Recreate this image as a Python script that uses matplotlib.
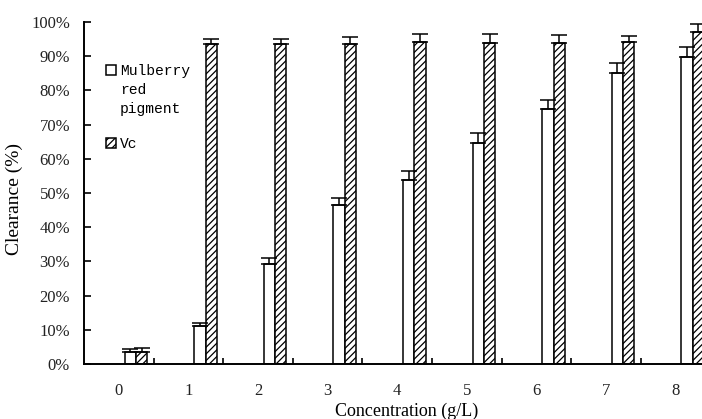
import matplotlib.pyplot as plt
import numpy as np
from matplotlib.patches import Rectangle
from matplotlib.ticker import FuncFormatter

serif = "Liberation Serif"
mono = "Liberation Mono"
plt.rcParams['hatch.color'] = '#444444'
plt.rcParams['hatch.linewidth'] = 0.9

concentration = ["0", "1", "2", "3", "4", "5", "6", "7", "8"]
mulberry = [3.6, 11.2, 29.2, 46.5, 53.7, 64.5, 74.6, 85.0, 89.9]
mulberry_err = [0.8, 0.7, 1.8, 2.0, 2.8, 3.0, 2.5, 2.9, 2.8]
vc = [3.6, 93.5, 93.5, 93.5, 94.2, 93.9, 93.8, 94.2, 97.1]
vc_err = [1.2, 1.5, 1.5, 2.0, 2.4, 2.7, 2.5, 1.6, 2.3]

W, H = 702, 419
fig = plt.figure(figsize=(W / 100, H / 100), dpi=100)
ax = fig.add_axes([84 / W, 55 / H, (W - 84) / W, (364 - 22) / H])

x = np.arange(len(concentration))
bw = 0.162
ax.bar(x + 0.165, mulberry, bw, color='white', edgecolor='black', linewidth=1.1,
       yerr=[np.zeros(len(x)), mulberry_err], capsize=6,
       error_kw=dict(elinewidth=1.1, capthick=1.1, ecolor='black'))
ax.bar(x + 0.327, vc, bw, color='white', edgecolor='black', linewidth=1.1, hatch='/////',
       yerr=[np.zeros(len(x)), vc_err], capsize=6,
       error_kw=dict(elinewidth=1.1, capthick=1.1, ecolor='black'))

ax.set_xlim(-0.5, (W - 84) / 69.6 - 0.5)
ax.set_ylim(0, 100)
ax.set_yticks(np.arange(0, 101, 10))
ax.yaxis.set_major_formatter(FuncFormatter(lambda v, p: "%d%%" % v))
ax.set_xticks(x)
ax.set_xticklabels(concentration)
ax.set_xticks(np.arange(0.5, 8.5, 1), minor=True)
ax.tick_params(axis='x', which='major', length=0, pad=14)
ax.tick_params(axis='x', which='minor', direction='in', length=4, width=1.2)
ax.tick_params(axis='y', direction='in', length=5, width=1.2, pad=10)
for lab in ax.get_xticklabels() + ax.get_yticklabels():
    lab.set_fontname(serif)
    lab.set_fontsize(12)
    lab.set_color('#222222')

for pos in ['right', 'top']:
    ax.spines[pos].set_visible(False)
for pos in ['left', 'bottom']:
    ax.spines[pos].set_linewidth(1.4)

fig.text(407 / W, 1 - 411 / H, "Concentration (g/L)", fontname=serif, fontsize=13,
         ha='center', va='center')
fig.text(14 / W, 1 - 199 / H, "Clearance (%)", fontname=serif, fontsize=14,
         ha='center', va='center', rotation=90)

# legend drawn by hand
fig.patches.append(Rectangle((106 / W, 1 - 75 / H), 10 / W, 10 / H, transform=fig.transFigure,
                             facecolor='white', edgecolor='black', linewidth=1.1))
fig.patches.append(Rectangle((106 / W, 1 - 148 / H), 10 / W, 10 / H, transform=fig.transFigure,
                             facecolor='white', edgecolor='black', linewidth=1.1, hatch='/////'))
for txt, yc in [("Mulberry", 70), ("red", 89), ("pigment", 108), ("Vc", 143)]:
    fig.text(120 / W, 1 - yc / H, txt, fontname=mono, fontsize=10.5,
             ha='left', va='center_baseline')

fig.savefig("out.png", dpi=100)
